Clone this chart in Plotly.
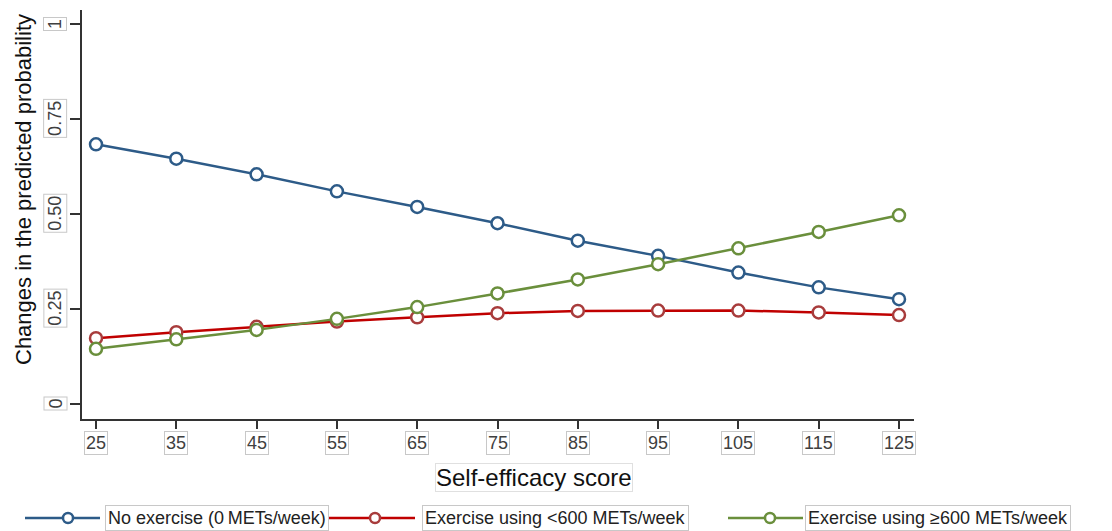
import plotly.graph_objects as go

scores = [25, 35, 45, 55, 65, 75, 85, 95, 105, 115, 125]
no_exercise = [0.683, 0.645, 0.604, 0.559, 0.518, 0.475, 0.429, 0.389, 0.345, 0.306, 0.275]
low_exercise = [0.172, 0.188, 0.202, 0.216, 0.227, 0.238, 0.244, 0.245, 0.245, 0.240, 0.233]
high_exercise = [0.144, 0.169, 0.194, 0.223, 0.254, 0.290, 0.327, 0.367, 0.409, 0.452, 0.496]

y_ticks = [0, 0.25, 0.5, 0.75, 1]
y_tick_labels = ["0", "0.25", "0.50", "0.75", "1"]
series_names = ["No exercise (0\u2009METs/week)", "Exercise using <600 METs/week", "Exercise using \u2265600 METs/week"]
colors = ["#2d5b88", "#c00000", "#6a8f3c"]
marker_colors = ["#2d5b88", "#a83c3c", "#6a8f3c"]

OFF = 8  # page body margin
W, H = 1112 - OFF, 531 - OFF
L, R, T, B = 82 - OFF, 914 - OFF, 10 - OFF, 419 - OFF  # plot area in figure pixels
FONT = "Liberation Sans, Arial, sans-serif"

def px_x(px):  # px given in screenshot coordinates
    return (px - OFF - L) / (R - L)

def px_y(py):
    return (B - (py - OFF)) / (B - T)

fig = go.Figure()
for name, ys, c, mc in zip(series_names, [no_exercise, low_exercise, high_exercise], colors, marker_colors):
    fig.add_trace(go.Scatter(
        x=scores, y=ys, name=name, mode="lines+markers",
        line=dict(color=c, width=2.5),
        marker=dict(symbol="circle", size=12, color="white", line=dict(color=mc, width=2.5)),
        showlegend=False,
    ))

annotations = []
# y tick labels (boxed, rotated)
for v, t in zip(y_ticks, y_tick_labels):
    annotations.append(dict(
        x=0, xref="paper", y=v, yref="y", xanchor="right", yanchor="middle",
        xshift=-15, text=t, textangle=-90, showarrow=False,
        font=dict(family=FONT, size=18, color="#404040"),
        bordercolor="#c8c8c8", borderwidth=1, borderpad=1, bgcolor="white",
    ))
# x tick labels (boxed)
for v in scores:
    annotations.append(dict(
        x=v, xref="x", y=0, yref="paper", xanchor="center", yanchor="top",
        yshift=-12, text=str(v), showarrow=False,
        font=dict(family=FONT, size=18, color="#404040"),
        bordercolor="#c8c8c8", borderwidth=1, borderpad=1, bgcolor="white",
    ))
# axis titles
annotations.append(dict(
    x=px_x(534), xref="paper", y=0, yref="paper", xanchor="center", yanchor="top",
    yshift=-44, text="Self-efficacy score", showarrow=False,
    font=dict(family=FONT, size=24, color="#111111"),
    bordercolor="#e0e0e0", borderwidth=1, borderpad=0,
))
annotations.append(dict(
    x=px_x(23), xref="paper", y=px_y(190), yref="paper", xanchor="center", yanchor="middle",
    text="Changes in the predicted probability", textangle=-90, showarrow=False,
    font=dict(family=FONT, size=22, color="#111111"),
))

# custom legend
shapes = []
legend_y = px_y(518)
legend_specs = [
    (25, 100, 68, 105),
    (327, 415, 375, 422),
    (728, 803, 770, 805),
]
for (x0, x1, xm, xt), name, c, mc in zip(legend_specs, series_names, colors, marker_colors):
    shapes.append(dict(type="line", xref="paper", yref="paper",
                       x0=px_x(x0), x1=px_x(x1), y0=legend_y, y1=legend_y,
                       line=dict(color=c, width=2.5)))
    shapes.append(dict(type="circle", xref="paper", yref="paper",
                       xsizemode="pixel", ysizemode="pixel",
                       xanchor=px_x(xm), yanchor=legend_y,
                       x0=-5, x1=5, y0=-5, y1=5,
                       fillcolor="white", line=dict(color=mc, width=2.5)))
    annotations.append(dict(
        x=px_x(xt), xref="paper", y=legend_y, yref="paper", xanchor="left", yanchor="middle",
        text=name, showarrow=False,
        font=dict(family=FONT, size=18, color="#222222"),
        bordercolor="#c8c8c8", borderwidth=1, borderpad=2, bgcolor="white",
    ))

# axis ranges from the reference's pixel scale (25 -> x=96, 125 -> x=899; 0 -> y=403.5, 1 -> y=24)
x_min = 25 - (96 - 82) / 8.03
x_max = 25 + (914 - 96) / 8.03
y_min = (403.5 - 419) / 379.5
y_max = (403.5 - 10) / 379.5

fig.update_layout(
    width=W, height=H,
    margin=dict(l=L, r=W - R, t=T, b=H - B),
    paper_bgcolor="white", plot_bgcolor="white",
    xaxis=dict(range=[x_min, x_max], tickvals=scores, showticklabels=False,
               ticks="outside", ticklen=8, tickwidth=1.5, tickcolor="#333333",
               showline=True, linecolor="#333333", linewidth=1.5,
               showgrid=False, zeroline=False, fixedrange=True),
    yaxis=dict(range=[y_min, y_max], tickvals=y_ticks, showticklabels=False,
               ticks="outside", ticklen=10, tickwidth=1.5, tickcolor="#333333",
               showline=True, linecolor="#333333", linewidth=1.5,
               showgrid=False, zeroline=False, fixedrange=True),
    annotations=annotations,
    shapes=shapes,
    showlegend=False,
)

fig.write_html("out.html")
